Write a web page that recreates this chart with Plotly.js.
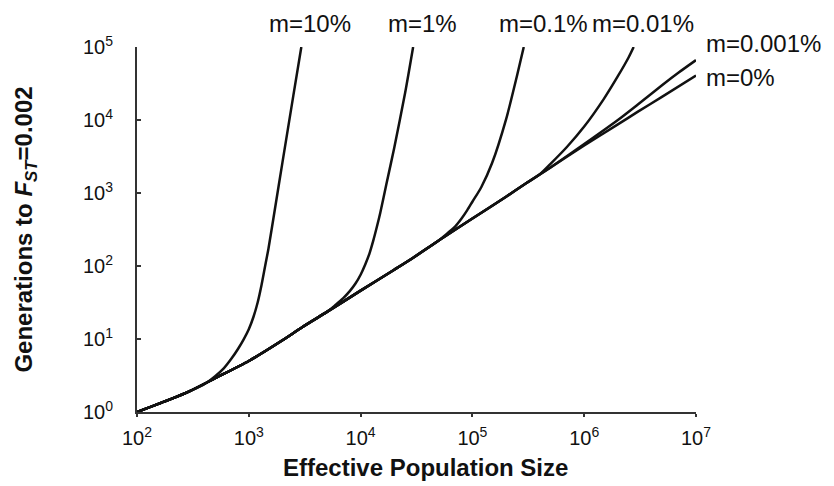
<!DOCTYPE html>
<html>
<head>
<meta charset="utf-8">
<script src="https://cdn.plot.ly/plotly-3.0.1.min.js"></script>
<style>html,body{margin:0;padding:0;background:#fff;}#chart{width:834px;height:486px;}</style>
</head>
<body>
<div id="chart"></div>
<script>
// Effective population size (x) and generations to FST=0.002 (y)
const N_m0 = [100,200,300,500,1e3,2e3,3e3,5e3,1e4,2e4,3e4,5e4,1e5,2e5,3e5,5e5,1e6,2e6,3e6,5e6,1e7];
const T_m0 = [1,1.5,1.95,2.9,5,9.6,14.5,23.5,46,89,132,224,447,890,1350,2240,4470,8710,12900,20900,40700];

const N_m10 = [100,200,300,400,500,600,700,800,900,1000,1100,1200,1300,1400,1500,1700,2000,2500,2950];
const T_m10 = [1,1.5,1.95,2.4,3.1,4.0,5.4,7.3,9.9,13.6,20,31.6,55,100,174,562,2630,21400,100000];

const N_m1 = [100,200,300,500,1e3,2e3,3e3,5e3,6e3,7e3,8e3,9e3,1e4,1.1e4,1.2e4,1.3e4,1.4e4,1.5e4,1.7e4,2e4,2.5e4,2.95e4];
const T_m1 = [1,1.5,1.95,2.9,5,9.6,14.5,23.5,29.5,36.3,45.2,57.5,76,105,148,224,347,537,1320,4170,23400,100000];

const N_m01 = [100,200,300,500,1e3,2e3,3e3,5e3,1e4,2e4,3e4,5e4,6e4,7e4,8e4,9e4,1e5,1.2e5,1.5e5,2e5,2.5e5,2.88e5];
const T_m01 = [1,1.5,1.95,2.9,5,9.6,14.5,23.5,46,89,132,224,282,347,447,582,759,1200,2570,10200,39800,100000];

const N_m001 = [100,200,300,500,1e3,2e3,3e3,5e3,1e4,2e4,3e4,5e4,1e5,2e5,3e5,4e5,5e5,7e5,1e6,1.5e6,2e6,2.5e6,2.77e6];
const T_m001 = [1,1.5,1.95,2.9,5,9.6,14.5,23.5,46,89,132,224,447,890,1350,1800,2510,4270,8130,19500,39800,72400,100000];

const N_m0001 = [100,200,300,500,1e3,2e3,3e3,5e3,1e4,2e4,3e4,5e4,1e5,2e5,3e5,5e5,1e6,2e6,3e6,5e6,7e6,1e7];
const T_m0001 = [1,1.5,1.95,2.9,5,9.6,14.5,23.5,46,89,132,224,447,890,1350,2240,4680,10000,16200,30200,44700,66100];

const xTickVals = [1e2,1e3,1e4,1e5,1e6,1e7];
const xTickText = ['10<sup>2</sup>','10<sup>3</sup>','10<sup>4</sup>','10<sup>5</sup>','10<sup>6</sup>','10<sup>7</sup>'];
const yTickVals = [1,10,100,1e3,1e4,1e5];
const yTickText = ['10<sup>0</sup>','10<sup>1</sup>','10<sup>2</sup>','10<sup>3</sup>','10<sup>4</sup>','10<sup>5</sup>'];

const seriesNames = ['m=0%','m=10%','m=1%','m=0.1%','m=0.01%','m=0.001%'];
const seriesX = [N_m0, N_m10, N_m1, N_m01, N_m001, N_m0001];
const seriesY = [T_m0, T_m10, T_m1, T_m01, T_m001, T_m0001];

const FONT = 'Liberation Sans, Arial, sans-serif';

const traces = seriesX.map((x, i) => ({
  type: 'scatter', mode: 'lines', name: seriesNames[i],
  x: x, y: seriesY[i],
  line: {color: '#111', width: 2.5, shape: 'spline', smoothing: 0.7},
  hoverinfo: 'skip'
}));

function px2paperX(p){ return (p - 137) / 559; }
function px2paperY(p){ return (412 - p) / 365; }

const labelFont = {family: FONT, size: 24, color: '#111'};
const annotations = [
  {text: 'm=10%', x: px2paperX(310), y: px2paperY(23), xanchor: 'center'},
  {text: 'm=1%', x: px2paperX(422), y: px2paperY(23), xanchor: 'center'},
  {text: 'm=0.1%', x: px2paperX(543), y: px2paperY(23), xanchor: 'center'},
  {text: 'm=0.01%', x: px2paperX(643), y: px2paperY(23), xanchor: 'center'},
  {text: 'm=0.001%', x: px2paperX(704), y: px2paperY(44), xanchor: 'left'},
  {text: 'm=0%', x: px2paperX(704), y: px2paperY(77), xanchor: 'left'},
  {text: 'Effective Population Size', x: px2paperX(426), y: px2paperY(467), xanchor: 'center',
   font: {family: FONT, size: 24, weight: 'bold', color: '#111'}}
].map(a => Object.assign({xref: 'paper', yref: 'paper', yanchor: 'middle', showarrow: false, font: labelFont}, a));

const layout = {
  width: 834, height: 486,
  margin: {l: 137, r: 138, t: 47, b: 74, pad: 0},
  paper_bgcolor: '#fff', plot_bgcolor: '#fff',
  showlegend: false,
  font: {family: FONT, color: '#111'},
  xaxis: {
    type: 'log', range: [2, 7], tickvals: xTickVals, ticktext: xTickText,
    showline: true, linecolor: '#333', linewidth: 2, ticks: 'outside', ticklen: 3, tickwidth: 2, tickcolor: '#333',
    showgrid: false, zeroline: false, tickfont: {family: FONT, size: 20, color: '#111'},
    ticklabelstandoff: 4
  },
  yaxis: {
    type: 'log', range: [0, 5], tickvals: yTickVals, ticktext: yTickText,
    showline: true, linecolor: '#333', linewidth: 2, ticks: 'inside', ticklen: 4, tickwidth: 2, tickcolor: '#333',
    showgrid: false, zeroline: false, tickfont: {family: FONT, size: 20, color: '#111'},
    ticklabelstandoff: 18,
    title: {text: 'Generations to <i>F</i><sub><i>ST</i></sub>=0.002', font: {family: FONT, size: 24, weight: 'bold', color: '#111'}, standoff: 44}
  },
  annotations: annotations
};

Plotly.newPlot('chart', traces, layout, {staticPlot: true, displayModeBar: false});
</script>
</body>
</html>
